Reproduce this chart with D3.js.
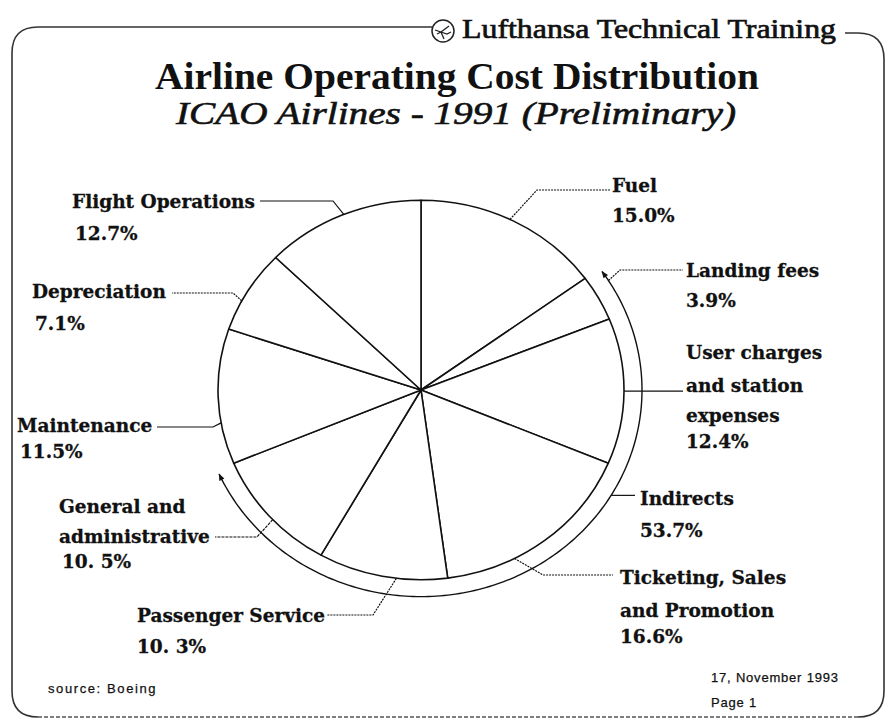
<!DOCTYPE html>
<html lang="en">
  <head>
    <meta charset="UTF-8" />
    <title>Airline Operating Cost Distribution</title>
    <script src="https://d3js.org/d3.v7.min.js"></script>
    <style>
      body {
        margin: 0;
        background: #fff;
      }
      .label {
        font-family: "DejaVu Serif", serif;
        font-weight: bold;
        font-size: 18.5px;
        fill: #111;
        stroke: #111;
        stroke-width: 0.3px;
      }
      .leader {
        fill: none;
        stroke: #111;
        stroke-width: 1.2px;
      }
      .small {
        font-family: "Liberation Sans", Arial, sans-serif;
        font-size: 13px;
        letter-spacing: 0.8px;
        fill: #111;
        stroke: #111;
        stroke-width: 0.25px;
      }
    </style>
  </head>
  <body>
    <script>
      // Cost categories, clockwise from 12 o'clock
      var categories = [
        "Fuel",
        "Landing fees",
        "User charges and station expenses",
        "Ticketing, Sales and Promotion",
        "Passenger Service",
        "General and administrative",
        "Maintenance",
        "Depreciation",
        "Flight Operations",
      ];
      var shares = [15.0, 3.9, 12.4, 16.6, 10.3, 10.5, 11.5, 7.1, 12.7];
      var shareLabels = ["15.0%", "3.9%", "12.4%", "16.6%", "10. 3%", "10. 5%", "11.5%", "7.1%", "12.7%"];

      // Categories grouped under "Indirects"
      var indirects = [
        "Landing fees",
        "User charges and station expenses",
        "Ticketing, Sales and Promotion",
        "Passenger Service",
        "General and administrative",
      ];
      var indirectsLabel = "53.7%";

      var width = 886,
        height = 719;
      var cx = 421,
        cy = 390,
        R = 203,
        R2 = 221,
        sy = 0.935;

      var svg = d3
        .select("body")
        .append("svg")
        .attr("width", width)
        .attr("height", height);

      // ---- frame ----
      var fl = 12, ft = 27, fr = 884, fb = 717, rad = 26;
      svg
        .append("path")
        .attr(
          "d",
          "M432," + ft + " L" + (fl + rad) + "," + ft +
            " Q" + fl + "," + ft + " " + fl + "," + (ft + rad) +
            " L" + fl + "," + (fb - rad) +
            " Q" + fl + "," + fb + " " + (fl + rad) + "," + fb
        )
        .attr("fill", "none")
        .attr("stroke", "#333")
        .attr("stroke-width", 1.6);
      svg
        .append("line")
        .attr("x1", fl + rad).attr("x2", fr - rad)
        .attr("y1", fb).attr("y2", fb)
        .attr("stroke", "#555")
        .attr("stroke-width", 1.4)
        .attr("stroke-dasharray", "4,2");
      svg
        .append("path")
        .attr(
          "d",
          "M845,33 L" + (fr - rad) + ",33 Q" + fr + ",33 " + fr + "," + (33 + rad) +
            " L" + fr + "," + (fb - rad) + " Q" + fr + "," + fb + " " + (fr - rad) + "," + fb
        )
        .attr("fill", "none")
        .attr("stroke", "#333")
        .attr("stroke-width", 1.6);

      // ---- header with logo ----
      var logo = svg.append("g").attr("transform", "translate(443,31)");
      logo.append("circle").attr("r", 11).attr("fill", "none").attr("stroke", "#222").attr("stroke-width", 1.5);
      logo
        .append("path")
        .attr("d", "M-8,-1 L-2,1 L6,-5 M-2,1 L4,3 L8,1 M-2,1 L1,8 M-6,3 L-2,1")
        .attr("fill", "none")
        .attr("stroke", "#222")
        .attr("stroke-width", 1.3);
      svg
        .append("text")
        .attr("x", 462)
        .attr("y", 38)
        .attr("textLength", 374)
        .attr("lengthAdjust", "spacingAndGlyphs")
        .style("font-family", "Liberation Serif, serif")
        .style("font-size", "28px")
        .style("fill", "#111")
        .style("stroke", "#111")
        .style("stroke-width", "0.7px")
        .text("Lufthansa Technical Training");

      // ---- titles ----
      svg
        .append("text")
        .attr("x", 155)
        .attr("y", 89)
        .attr("textLength", 604)
        .attr("lengthAdjust", "spacingAndGlyphs")
        .style("font-family", "Liberation Serif, serif")
        .style("font-weight", "bold")
        .style("font-size", "37px")
        .style("fill", "#111")
        .text("Airline Operating Cost Distribution");
      svg
        .append("text")
        .attr("x", 176)
        .attr("y", 124)
        .attr("textLength", 560)
        .attr("lengthAdjust", "spacingAndGlyphs")
        .style("font-family", "Liberation Serif, serif")
        .style("font-style", "italic")
        .style("font-size", "31px")
        .style("fill", "#111")
        .style("stroke", "#111")
        .style("stroke-width", "0.6px")
        .text("ICAO Airlines - 1991 (Preliminary)");

      // ---- pie ----
      var deg = Math.PI / 180;
      var pie = d3.pie().sort(null).value(function (d) { return d; });
      var arcs = pie(shares);
      var arc = d3.arc().innerRadius(0).outerRadius(R);

      var pieG = svg
        .append("g")
        .attr("transform", "translate(" + cx + "," + cy + ") scale(1," + sy + ")");
      pieG
        .selectAll("path")
        .data(arcs)
        .enter()
        .append("path")
        .attr("d", arc)
        .attr("fill", "#fff")
        .attr("stroke", "#111")
        .attr("stroke-width", 1.6)
        .attr("stroke-linejoin", "round")
        .attr("vector-effect", "non-scaling-stroke");

      // point on the (slightly squashed) circle, angle in degrees clockwise from top
      function pt(a, r) {
        return [cx + r * Math.sin(a * deg), cy - r * sy * Math.cos(a * deg)];
      }

      // ---- Indirects bracket arc ----
      var idx = indirects.map(function (c) { return categories.indexOf(c); });
      var a0 = arcs[d3.min(idx)].startAngle / deg,
        a1 = arcs[d3.max(idx)].endAngle / deg;
      var defs = svg.append("defs");
      defs
        .append("marker")
        .attr("id", "arrow")
        .attr("viewBox", "0 0 10 10")
        .attr("refX", 9)
        .attr("refY", 5)
        .attr("markerWidth", 9)
        .attr("markerHeight", 7)
        .attr("markerUnits", "userSpaceOnUse")
        .attr("orient", "auto-start-reverse")
        .append("path")
        .attr("d", "M0,1 L10,5 L0,9 z")
        .attr("fill", "#111");
      var bracketPts = d3.range(a0 + 1, a1 - 1 + 0.01, 1).map(function (a) { return pt(a, R2); });
      svg
        .append("path")
        .attr("d", d3.line()(bracketPts))
        .attr("fill", "none")
        .attr("stroke", "#111")
        .attr("stroke-width", 1.4)
        .attr("marker-start", "url(#arrow)")
        .attr("marker-end", "url(#arrow)");

      // ---- labels and leaders ----
      function mid(i) {
        return ((arcs[i].startAngle + arcs[i].endAngle) / 2) / deg;
      }

      // layout: anchor angle offset, anchor radius, leader bends, text lines
      var layout = [
        { off: -1, r: R, bends: [[537, 190], [610, 190]], x: 612, ys: [192, 222], dash: "2,1" },
        { off: -3, r: R2, bends: [[620, 270], [683, 270]], x: 686, ys: [277, 307], dash: "2,1",
          lines: ["Landing fees"] },
        { off: 0, r: R, bends: [[683, null]], x: 686, ys: [359, 392, 422, 448],
          lines: ["User charges", "and station", "expenses"] },
        { off: 10, r: R, bends: [[543, 575], [613, 575]], x: 620, ys: [584, 617, 643], dash: "2,1",
          lines: ["Ticketing, Sales", "and Promotion"] },
        { off: -4, r: R, bends: [[373, 615], [327, 615]], x: 137, ys: [622, 653], dash: "2,1" },
        { off: -1.5, r: R, bends: [[257, 537], [215, 537]], x: 59, ys: [513, 543, 568], dash: "3,1",
          lines: ["General and", "administrative"] },
        { off: -8, r: R, bends: [[213, 427], [157, 427]], x: 17, ys: [432, 458] },
        { off: -3.5, r: R, bends: [[233, 293], [172, 293]], x: 32, ys: [298, 330], dash: "2,1" },
        { off: 0.5, r: R, bends: [[333, 201], [260, 201]], x: 72, ys: [208, 240] },
      ];

      categories.forEach(function (c, i) {
        var L = layout[i];
        var p0 = pt(mid(i) + L.off, L.r);
        var pts = [p0].concat(
          L.bends.map(function (b) { return [b[0], b[1] === null ? p0[1] : b[1]]; })
        );
        svg
          .append("path")
          .attr("class", "leader")
          .attr("d", d3.line()(pts))
          .attr("stroke-dasharray", L.dash || null);
        var lines = (L.lines || [c]).concat([shareLabels[i]]);
        lines.forEach(function (t, k) {
          svg
            .append("text")
            .attr("class", "label")
            .attr("x", L.x + (k === lines.length - 1 && L.x < 100 ? 3 : 0))
            .attr("y", L.ys[k])
            .text(t);
        });
      });

      // Indirects label on the bracket
      var ip = pt((a0 + a1) / 2 - 30, R2);
      svg
        .append("path")
        .attr("class", "leader")
        .attr("d", d3.line()([ip, [635, ip[1]]]));
      svg.append("text").attr("class", "label").attr("x", 640).attr("y", 505).text("Indirects");
      svg.append("text").attr("class", "label").attr("x", 640).attr("y", 537).text(indirectsLabel);

      // ---- footer ----
      svg.append("text").attr("class", "small").attr("x", 48).attr("y", 693).style("letter-spacing", "1.6px").text("source: Boeing");
      svg.append("text").attr("class", "small").attr("x", 711).attr("y", 682).text("17, November 1993");
      svg.append("text").attr("class", "small").attr("x", 711).attr("y", 707).text("Page 1");
    </script>
  </body>
</html>
